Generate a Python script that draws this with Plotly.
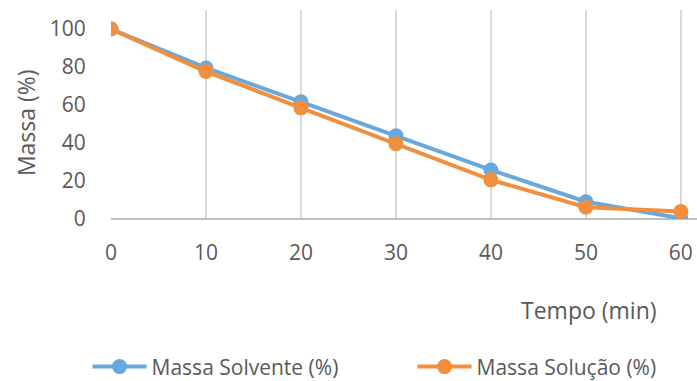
import plotly.graph_objects as go

# Tempo (min) e massa remanescente (%)
tempo = [0, 10, 20, 30, 40, 50, 60]
massa_solvente = [100, 79.5, 61.7, 43.8, 25.8, 9.1, 0.4]
massa_solucao = [100, 77.6, 58.5, 39.6, 20.6, 6.2, 3.9]

x_ticks = [0, 10, 20, 30, 40, 50, 60]
y_ticks = [0, 20, 40, 60, 80, 100]

azul = "#68A8DC"
laranja = "#F18F3E"
fonte = "Open Sans"
cinza_texto = "#595959"

fig = go.Figure()
fig.add_trace(go.Scatter(
    x=tempo, y=massa_solvente, name="Massa Solvente (%)",
    mode="lines+markers",
    line=dict(color=azul, width=4),
    marker=dict(color=azul, size=15),
))
fig.add_trace(go.Scatter(
    x=tempo, y=massa_solucao, name="Massa Solução (%)",
    mode="lines+markers",
    line=dict(color=laranja, width=4),
    marker=dict(color=laranja, size=15),
))

fig.update_layout(
    width=697, height=381,
    margin=dict(l=111, r=0, t=10, b=162, autoexpand=False),
    paper_bgcolor="white", plot_bgcolor="white",
    font=dict(family=fonte, size=21, color=cinza_texto),
    showlegend=True,
    legend=dict(
        orientation="h", x=-0.04, y=-0.708, xanchor="left", yanchor="middle",
        entrywidth=256, entrywidthmode="pixels", itemwidth=54,
        font=dict(family=fonte, size=21, color=cinza_texto),
    ),
    xaxis=dict(
        range=[0, 61.7], tickvals=x_ticks, ticktext=[str(v) for v in x_ticks],
        showgrid=True, gridcolor="#D9D9D9", gridwidth=1.5,
        showline=False, zeroline=False,
        ticks="outside", ticklen=15, tickcolor="rgba(0,0,0,0)",
        tickfont=dict(size=21),
    ),
    yaxis=dict(
        range=[0, 110], tickvals=y_ticks,
        showgrid=False, zeroline=True, zerolinecolor="#BFBFBF", zerolinewidth=2,
        showline=False,
        ticks="outside", ticklen=20, tickcolor="rgba(0,0,0,0)",
        tickfont=dict(size=21),
    ),
    annotations=[
        dict(text="Tempo (min)", xref="paper", yref="paper", x=0.816, y=-0.435,
             xanchor="center", yanchor="middle", showarrow=False,
             font=dict(family=fonte, size=23, color=cinza_texto)),
        dict(text="Massa (%)", xref="paper", yref="paper", x=-0.145, y=0.459,
             xanchor="center", yanchor="middle", showarrow=False, textangle=-90,
             font=dict(family=fonte, size=23, color=cinza_texto)),
    ],
)

fig.write_html("out.html")
